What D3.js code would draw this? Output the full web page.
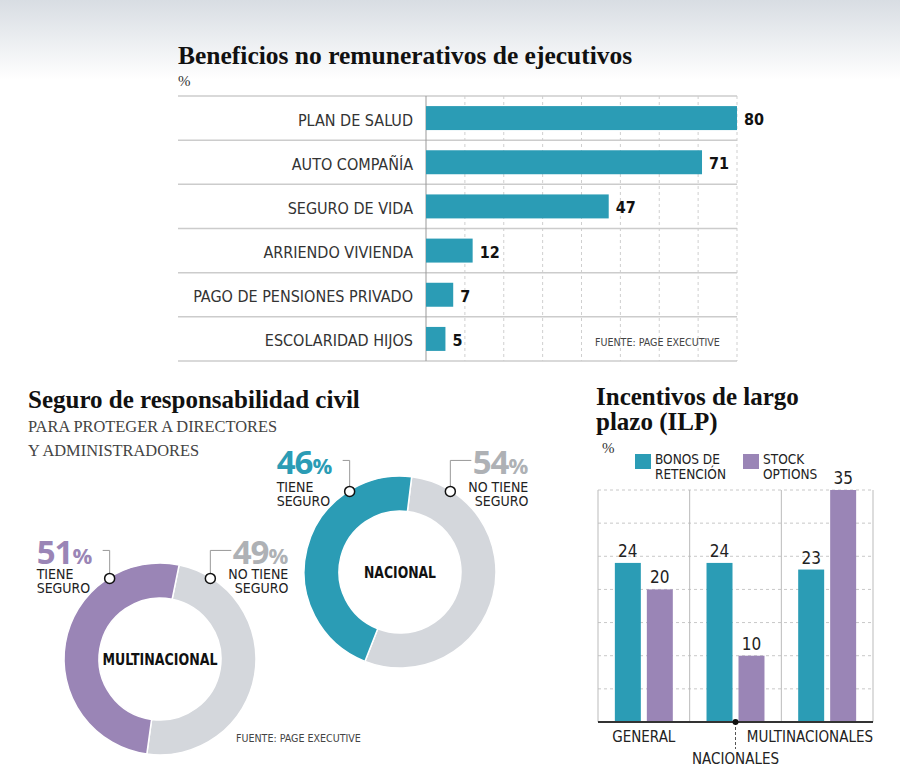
<!DOCTYPE html>
<html><head><meta charset="utf-8">
<script src="https://cdn.jsdelivr.net/npm/d3@7"></script>
<style>
html,body{margin:0;padding:0;background:#fff;}
svg{display:block;}
.serif{font-family:"Liberation Serif","DejaVu Serif",serif;}
.sans{font-family:"Liberation Sans Narrow","DejaVu Sans Condensed","Roboto Condensed",Roboto,sans-serif;font-stretch:condensed;}
.bold{font-family:"Open Sans",Lato,sans-serif;font-weight:700;}
</style>
</head><body>
<svg id="chart" width="900" height="779"></svg>
<script>
// ---------- DATA ----------
const benefitCategories = ["PLAN DE SALUD","AUTO COMPAÑÍA","SEGURO DE VIDA","ARRIENDO VIVIENDA","PAGO DE PENSIONES PRIVADO","ESCOLARIDAD HIJOS"];
const benefitValues = [80, 71, 47, 12, 7, 5];
const benefitTicks = [10, 20, 30, 40, 50, 60, 70, 80];

const donutNames = ["NACIONAL", "MULTINACIONAL"];
const tieneSeguro = [46, 51];
const noTieneSeguro = [54, 49];

const ilpGroups = ["GENERAL", "NACIONALES", "MULTINACIONALES"];
const ilpSeries = ["BONOS DE RETENCIÓN", "STOCK OPTIONS"];
const bonosRetencion = [24, 24, 23];
const stockOptions = [20, 10, 35];
const ilpTicks = [5, 10, 15, 20, 25, 30, 35];

// ---------- STYLE ----------
const TEAL = "#2b9cb5", PURPLE = "#9a85b6", GREY = "#d4d7dc", GREYTXT = "#aeb1b5";

const svg = d3.select("#chart");

// background gradient
const defs = svg.append("defs");
const grad = defs.append("linearGradient").attr("id","bg").attr("x1",0).attr("x2",0).attr("y1",0).attr("y2",1);
grad.append("stop").attr("offset","0%").attr("stop-color","#d8dde3");
grad.append("stop").attr("offset","100%").attr("stop-color","#ffffff");
svg.append("rect").attr("x",0).attr("y",0).attr("width",900).attr("height",80).attr("fill","url(#bg)");

// ---------- CHART 1: horizontal bars ----------
const c1 = svg.append("g");
c1.append("text").attr("class","serif").attr("x",178).attr("y",64)
  .attr("font-size",25.5).attr("font-weight",700).attr("fill","#111")
  .text("Beneficios no remunerativos de ejecutivos");
c1.append("text").attr("class","serif").attr("x",178).attr("y",86)
  .attr("font-size",15).attr("fill","#333").text("%");

const x1 = d3.scaleLinear().domain([0,80]).range([426,737]);
const y1 = d3.scaleBand().domain(benefitCategories).range([96,361]).paddingInner(0.457).paddingOuter(0.2285);

// dashed gridlines
c1.selectAll(".g1").data(benefitTicks).join("line")
  .attr("x1",d=>x1(d)).attr("x2",d=>x1(d)).attr("y1",96).attr("y2",361)
  .attr("stroke","#cfcfcf").attr("stroke-width",1).attr("stroke-dasharray","3,3");
// row separators
const sepYs = benefitCategories.map(c => y1(c) - y1.step()*y1.paddingOuter()).concat([361]);
c1.selectAll(".sep").data(sepYs).join("line")
  .attr("x1",178).attr("x2",737).attr("y1",d=>d).attr("y2",d=>d)
  .attr("stroke","#cccccc").attr("stroke-width",1.5);
// axis line
c1.append("line").attr("x1",x1(0)).attr("x2",x1(0)).attr("y1",96).attr("y2",361)
  .attr("stroke","#999").attr("stroke-width",1);
// bars
c1.selectAll(".bar").data(benefitValues).join("rect")
  .attr("x",x1(0)).attr("y",(d,i)=>y1(benefitCategories[i]))
  .attr("width",d=>x1(d)-x1(0)).attr("height",y1.bandwidth()).attr("fill",TEAL);
// labels
c1.selectAll(".lab").data(benefitCategories).join("text").attr("class","sans")
  .attr("x",413).attr("y",d=>y1(d)+y1.bandwidth()/2+7.5).attr("text-anchor","end")
  .attr("font-size",16).attr("fill","#333").text(d=>d);
c1.selectAll(".val").data(benefitValues).join("text").attr("class","sans")
  .attr("x",d=>x1(d)+7).attr("y",(d,i)=>y1(benefitCategories[i])+y1.bandwidth()/2+7)
  .attr("font-size",16).attr("font-weight",700).attr("fill","#111").text(d=>d);
c1.append("text").attr("class","sans").attr("x",595).attr("y",346)
  .attr("font-size",10.6).attr("fill","#444").text("FUENTE: PAGE EXECUTIVE");

// ---------- CHART 2: donuts ----------
const c2 = svg.append("g");
c2.append("text").attr("class","serif").attr("x",28).attr("y",408)
  .attr("font-size",25).attr("font-weight",700).attr("fill","#111")
  .text("Seguro de responsabilidad civil");
c2.append("text").attr("class","serif").attr("x",28).attr("y",432)
  .attr("font-size",16.4).attr("fill","#444").text("PARA PROTEGER A DIRECTORES");
c2.append("text").attr("class","serif").attr("x",28).attr("y",456)
  .attr("font-size",16.4).attr("fill","#444").text("Y ADMINISTRADORES");

const donutCfg = [
  {cx:400, cy:572, start:7, color:TEAL, labW:72, pctGap:17},
  {cx:160, cy:659, start:11.5, color:PURPLE, labW:115, pctGap:14}
];
const outerR = 96, innerR = 61;
const arc = d3.arc().innerRadius(innerR).outerRadius(outerR);
const rad = Math.PI/180;

donutNames.forEach((name, i) => {
  const cfg = donutCfg[i];
  const g = c2.append("g").attr("transform",`translate(${cfg.cx},${cfg.cy})`);
  const pie = d3.pie().sort(null).value(d=>d.v)
    .startAngle(cfg.start*rad).endAngle(cfg.start*rad + 2*Math.PI);
  const data = [{k:"no", v:noTieneSeguro[i], c:GREY},{k:"si", v:tieneSeguro[i], c:cfg.color}];
  g.selectAll("path").data(pie(data)).join("path")
    .attr("d",arc).attr("fill",d=>d.data.c).attr("stroke","#fff").attr("stroke-width",1.5);
  g.append("text").attr("class","sans").attr("x",0).attr("y",6).attr("text-anchor","middle")
    .attr("font-size",16).attr("font-weight",700).attr("fill","#111")
    .attr("textLength",cfg.labW).attr("lengthAdjust","spacingAndGlyphs").text(name);

  // annotations
  const a = 32*rad, rr = outerR - 1;
  const left = {x: cfg.cx - rr*Math.sin(a), y: cfg.cy - rr*Math.cos(a)};
  const right = {x: cfg.cx + rr*Math.sin(a), y: cfg.cy - rr*Math.cos(a)};
  const pctY = left.y - cfg.pctGap;
  const leadY = pctY - 14;

  // left: tiene seguro
  const lx = left.x - 73;
  const t1 = c2.append("text").attr("class","bold").attr("x",lx).attr("y",pctY).attr("fill",cfg.color);
  t1.append("tspan").attr("font-size",33).attr("letter-spacing",-1).text(tieneSeguro[i]);
  t1.append("tspan").attr("font-size",22).text("%");
  c2.append("path").attr("d",`M${lx+66},${leadY}H${left.x}V${left.y-5}`)
    .attr("fill","none").attr("stroke","#999").attr("stroke-width",1);
  c2.append("circle").attr("cx",left.x).attr("cy",left.y).attr("r",5)
    .attr("fill","#fff").attr("stroke","#111").attr("stroke-width",1.5);
  c2.append("text").attr("class","sans").attr("x",lx).attr("y",left.y+1).attr("font-size",14).attr("fill","#222").text("TIENE");
  c2.append("text").attr("class","sans").attr("x",lx).attr("y",left.y+15).attr("font-size",14).attr("fill","#222").text("SEGURO");

  // right: no tiene seguro
  const rx = right.x + 78;
  const t2 = c2.append("text").attr("class","bold").attr("x",rx).attr("y",pctY).attr("text-anchor","end").attr("fill",GREYTXT);
  t2.append("tspan").attr("font-size",33).attr("letter-spacing",-1).text(noTieneSeguro[i]);
  t2.append("tspan").attr("font-size",22).text("%");
  c2.append("path").attr("d",`M${rx-57},${leadY}H${right.x}V${right.y-5}`)
    .attr("fill","none").attr("stroke","#999").attr("stroke-width",1);
  c2.append("circle").attr("cx",right.x).attr("cy",right.y).attr("r",5)
    .attr("fill","#fff").attr("stroke","#111").attr("stroke-width",1.5);
  c2.append("text").attr("class","sans").attr("x",rx).attr("y",right.y+1).attr("text-anchor","end").attr("font-size",14).attr("fill","#222").text("NO TIENE");
  c2.append("text").attr("class","sans").attr("x",rx).attr("y",right.y+15).attr("text-anchor","end").attr("font-size",14).attr("fill","#222").text("SEGURO");
});
c2.append("text").attr("class","sans").attr("x",236).attr("y",742)
  .attr("font-size",10.6).attr("fill","#444").text("FUENTE: PAGE EXECUTIVE");

// ---------- CHART 3: grouped bars ----------
const c3 = svg.append("g");
c3.append("text").attr("class","serif").attr("x",596).attr("y",405)
  .attr("font-size",25).attr("font-weight",700).attr("fill","#111").text("Incentivos de largo");
c3.append("text").attr("class","serif").attr("x",596).attr("y",430)
  .attr("font-size",25).attr("font-weight",700).attr("fill","#111").text("plazo (ILP)");
c3.append("text").attr("class","serif").attr("x",602).attr("y",453)
  .attr("font-size",15).attr("fill","#333").text("%");

// legend
const legX = [635, 743];
const legLines = [["BONOS DE","RETENCIÓN"],["STOCK","OPTIONS"]];
const serColors = [TEAL, PURPLE];
ilpSeries.forEach((s,i)=>{
  c3.append("rect").attr("x",legX[i]).attr("y",454).attr("width",16).attr("height",15).attr("fill",serColors[i]);
  legLines[i].forEach((ln,j)=>{
    c3.append("text").attr("class","sans").attr("x",legX[i]+20).attr("y",464+j*14.5)
      .attr("font-size",13.5).attr("fill","#222").text(ln);
  });
});

const x3 = d3.scaleBand().domain(ilpGroups).range([598,873]).padding(0);
const xs = d3.scaleBand().domain(ilpSeries).range([0,x3.bandwidth()]).paddingInner(0.1875).paddingOuter(0.527);
const y3 = d3.scaleLinear().domain([0,35]).range([722,490]);

c3.selectAll(".g3").data(ilpTicks).join("line")
  .attr("x1",598).attr("x2",873).attr("y1",d=>y3(d)).attr("y2",d=>y3(d))
  .attr("stroke","#c8c8c8").attr("stroke-width",1).attr("stroke-dasharray","3,3");
const vlines = ilpGroups.map(g=>x3(g)).concat([873]);
c3.selectAll(".v3").data(vlines).join("line")
  .attr("x1",d=>d).attr("x2",d=>d).attr("y1",490).attr("y2",722)
  .attr("stroke","#bbb").attr("stroke-width",1);

const seriesVals = [bonosRetencion, stockOptions];
ilpGroups.forEach((g,gi)=>{
  ilpSeries.forEach((s,si)=>{
    const v = seriesVals[si][gi];
    c3.append("rect").attr("x",x3(g)+xs(s)).attr("y",y3(v))
      .attr("width",xs.bandwidth()).attr("height",y3(0)-y3(v)).attr("fill",serColors[si]);
    c3.append("text").attr("class","sans").attr("x",x3(g)+xs(s)+xs.bandwidth()/2).attr("y",y3(v)-6)
      .attr("text-anchor","middle").attr("font-size",17).attr("fill","#222").text(v);
  });
});
c3.append("line").attr("x1",598).attr("x2",873).attr("y1",722).attr("y2",722)
  .attr("stroke","#333").attr("stroke-width",2);

// category labels
c3.append("text").attr("class","sans").attr("x",x3("GENERAL")+x3.bandwidth()/2).attr("y",742)
  .attr("text-anchor","middle").attr("font-size",15).attr("fill","#222").text("GENERAL");
c3.append("text").attr("class","sans").attr("x",873).attr("y",742)
  .attr("text-anchor","end").attr("font-size",15).attr("fill","#222").text("MULTINACIONALES");
const nx = x3("NACIONALES")+x3.bandwidth()/2;
c3.append("line").attr("x1",nx).attr("x2",nx).attr("y1",722).attr("y2",749)
  .attr("stroke","#555").attr("stroke-width",1).attr("stroke-dasharray","3,2");
c3.append("circle").attr("cx",nx).attr("cy",722).attr("r",3).attr("fill","#111");
c3.append("text").attr("class","sans").attr("x",nx).attr("y",764)
  .attr("text-anchor","middle").attr("font-size",15).attr("fill","#222").text("NACIONALES");
</script>
</body></html>
